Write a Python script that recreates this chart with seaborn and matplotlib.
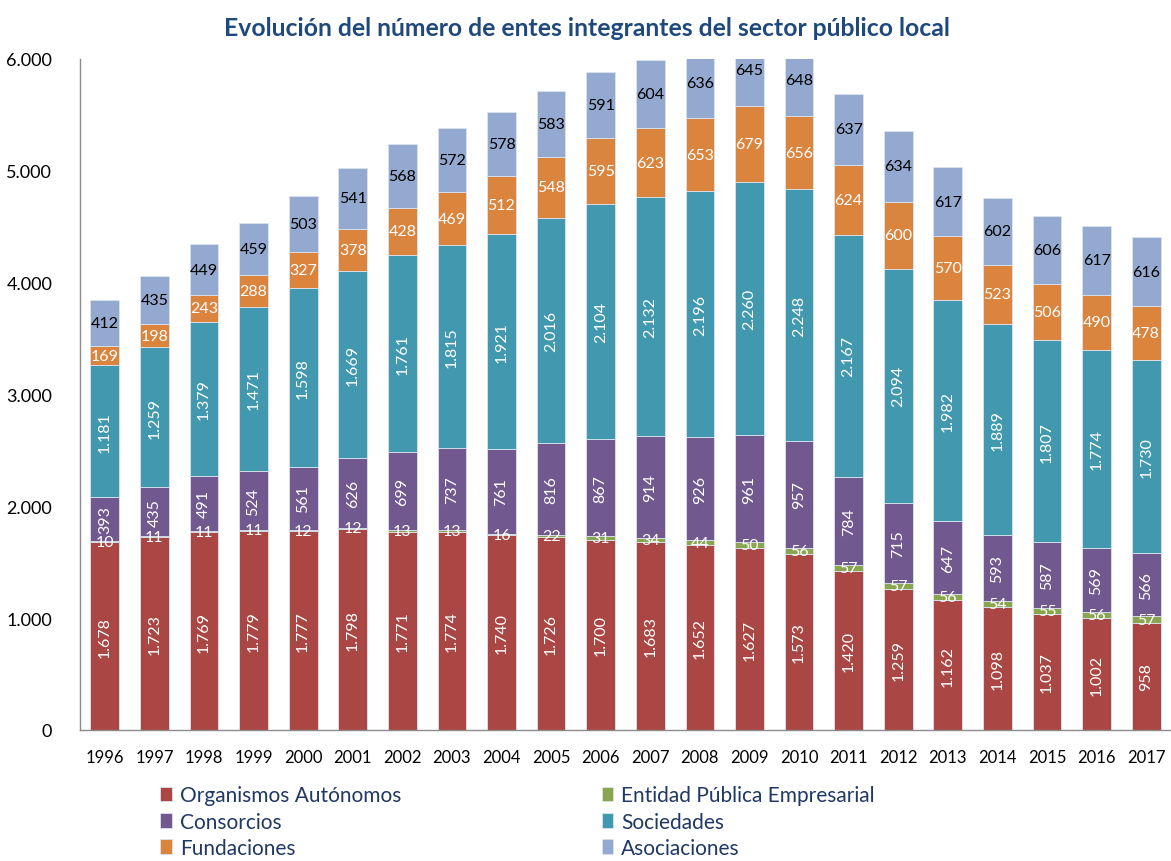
import numpy as np
import pandas as pd
import matplotlib
matplotlib.use("Agg")
import matplotlib.pyplot as plt
import seaborn as sns

# data
years = [str(y) for y in range(1996, 2018)]
organismos = [1678, 1723, 1769, 1779, 1777, 1798, 1771, 1774, 1740, 1726, 1700,
              1683, 1652, 1627, 1573, 1420, 1259, 1162, 1098, 1037, 1002, 958]
entidad = [10, 11, 11, 11, 12, 12, 13, 13, 16, 22, 31,
           34, 44, 50, 56, 57, 57, 56, 54, 55, 56, 57]
consorcios = [393, 435, 491, 524, 561, 626, 699, 737, 761, 816, 867,
              914, 926, 961, 957, 784, 715, 647, 593, 587, 569, 566]
sociedades = [1181, 1259, 1379, 1471, 1598, 1669, 1761, 1815, 1921, 2016, 2104,
              2132, 2196, 2260, 2248, 2167, 2094, 1982, 1889, 1807, 1774, 1730]
fundaciones = [169, 198, 243, 288, 327, 378, 428, 469, 512, 548, 595,
               623, 653, 679, 656, 624, 600, 570, 523, 506, 490, 478]
asociaciones = [412, 435, 449, 459, 503, 541, 568, 572, 578, 583, 591,
                604, 636, 645, 648, 637, 634, 617, 602, 606, 617, 616]

series = ["Organismos Autónomos", "Entidad Pública Empresarial", "Consorcios",
          "Sociedades", "Fundaciones", "Asociaciones"]
values = [organismos, entidad, consorcios, sociedades, fundaciones, asociaciones]
colors = ["#AA4643", "#89A54E", "#71588F", "#4198AF", "#DB843D", "#93A9CF"]
rotated = [True, False, True, True, False, False]
label_colors = ["white", "white", "white", "white", "white", "black"]

def fmt(v):
    return f"{v:,}".replace(",", ".")

sns.set_theme(style="white")
plt.rcParams["font.family"] = ["Lato", "DejaVu Sans"]

fig = plt.figure(figsize=(11.71, 8.62), dpi=100)
ax = fig.add_axes([80 / 1171, 1 - 731 / 862, 1 - 80 / 1171, (731 - 60) / 862])

bottom = np.zeros(len(years))
for name, vals, col, rot, lc in zip(series, values, colors, rotated, label_colors):
    df = pd.DataFrame({"year": years, "n": vals})
    sns.barplot(data=df, x="year", y="n", color=col, bottom=bottom, width=0.58,
                edgecolor="#DCE3EE", linewidth=0.6, saturation=1, label=name,
                legend=False, ax=ax)
    for i, v in enumerate(vals):
        ax.text(i, bottom[i] + v / 2, fmt(v), ha="center", va="center",
                rotation=90 if rot else 0, color=lc, fontsize=11.5)
    bottom = bottom + np.array(vals)

if ax.get_legend() is not None:
    ax.get_legend().remove()

ax.set_ylim(0, 6000)
ax.set_xlim(-0.5, len(years) - 0.5)
ax.set_yticks(range(0, 6001, 1000))
ax.set_yticklabels([fmt(v) for v in range(0, 6001, 1000)], fontsize=13, color="black")
ax.tick_params(axis="x", labelsize=12, colors="black", pad=8)
ax.tick_params(axis="y", pad=14)
ax.set_xlabel("")
ax.set_ylabel("")
for s in ["top", "right"]:
    ax.spines[s].set_visible(False)
for s in ["left", "bottom"]:
    ax.spines[s].set_color("#8C8C8C")
    ax.spines[s].set_linewidth(1)

fig.text(587 / 1171, 1 - 28 / 862,
         "Evolución del número de entes integrantes del sector público local",
         ha="center", va="center", fontsize=17.8, fontweight="bold", color="#1F497D")

handles, labels = ax.get_legend_handles_labels()
order = [0, 2, 4, 1, 3, 5]
leg = fig.legend([handles[i] for i in order], [labels[i] for i in order],
                 loc="upper left", bbox_to_anchor=(152 / 1171, 1 - 778 / 862),
                 ncol=2, frameon=False, fontsize=15, handlelength=0.55,
                 handleheight=0.7, handletextpad=0.4, columnspacing=9.6,
                 labelspacing=0.3, borderaxespad=0)
for t in leg.get_texts():
    t.set_color("#1F3864")

fig.savefig("out.png", dpi=100)
